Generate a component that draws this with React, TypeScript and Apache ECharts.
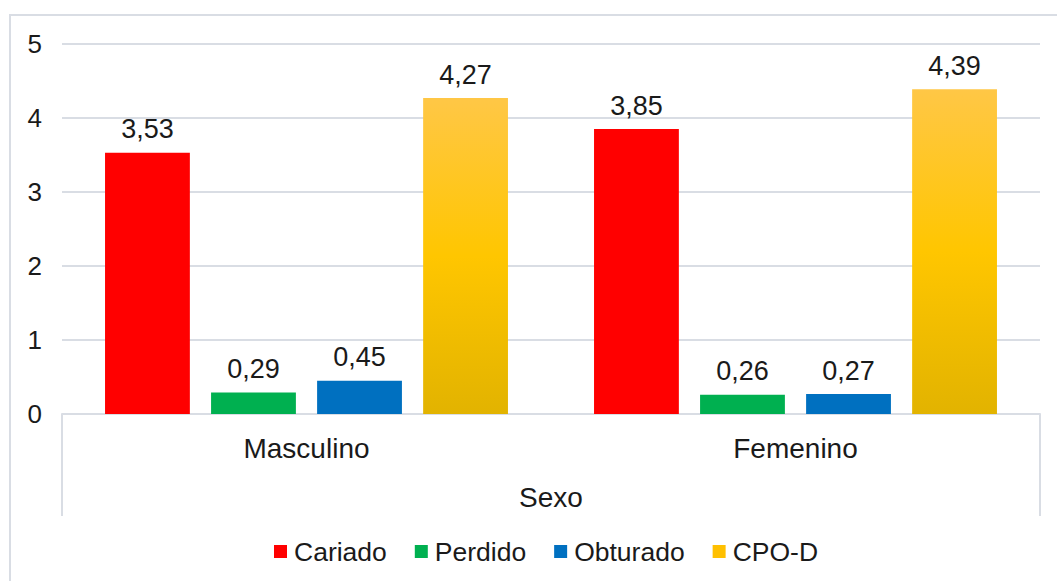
import React, { useEffect, useRef } from "react";
import * as echarts from "echarts";

const categories = ["Masculino", "Femenino"];
const seriesNames = ["Cariado", "Perdido", "Obturado", "CPO-D"];
const cariado = [3.53, 3.85];
const perdido = [0.29, 0.26];
const obturado = [0.45, 0.27];
const cpod = [4.27, 4.39];
const yTicks = [0, 1, 2, 3, 4, 5];

const FONT = "'Liberation Sans', Arial, sans-serif";
const TXT = "#1a1a1a";

export default function App() {
  const ref = useRef<HTMLDivElement>(null);
  useEffect(() => {
    if (!ref.current) return;
    const chart = echarts.init(ref.current, undefined, { renderer: "svg" });
    const label = {
      show: true,
      position: "top",
      distance: 10,
      fontSize: 27,
      fontFamily: FONT,
      color: TXT,
      formatter: (p: any) => p.value.toFixed(2).replace(".", ","),
    };
    const goldGrad = new echarts.graphic.LinearGradient(0, 0, 0, 1, [
      { offset: 0, color: "#FFC746" },
      { offset: 0.5, color: "#FFC600" },
      { offset: 1, color: "#E2B300" },
    ]);
    const data = [cariado, perdido, obturado, cpod];
    const colors: any[] = ["#FF0000", "#00B050", "#0070C0", goldGrad];
    chart.setOption({
      animation: false,
      textStyle: { fontFamily: FONT },
      grid: { left: 62, right: 17, top: 44, bottom: 167, containLabel: false },
      graphic: [
        {
          type: "rect",
          shape: { x: 10, y: 15, width: 1070, height: 600 },
          style: { fill: "none", stroke: "#D9DDE4", lineWidth: 2 },
          silent: true,
        },
        {
          type: "line",
          shape: { x1: 62, y1: 414, x2: 62, y2: 516 },
          style: { stroke: "#D9DDE4", lineWidth: 2 },
          silent: true,
        },
        {
          type: "line",
          shape: { x1: 1040, y1: 414, x2: 1040, y2: 516 },
          style: { stroke: "#D9DDE4", lineWidth: 2 },
          silent: true,
        },
      ],
      legend: {
        data: seriesNames.map((n, i) => ({
          name: n,
          icon: "rect",
          itemStyle: i === 3 ? { color: "#FFC000" } : undefined,
        })),
        top: 533,
        left: 269,
        itemWidth: 13,
        itemHeight: 13,
        itemGap: 28,
        textStyle: { fontSize: 26.5, fontFamily: FONT, color: TXT, padding: [0, 0, 0, 2] },
      },
      xAxis: {
        type: "category",
        data: categories,
        axisLine: { show: true, lineStyle: { color: "#D9DDE4", width: 2 } },
        axisTick: { show: false },
        axisLabel: { fontSize: 28, fontFamily: FONT, color: TXT, margin: 20 },
        name: "Sexo",
        nameLocation: "middle",
        nameGap: 69,
        nameTextStyle: { fontSize: 28, fontFamily: FONT, color: TXT },
      },
      yAxis: {
        type: "value",
        min: yTicks[0],
        max: yTicks[yTicks.length - 1],
        interval: 1,
        axisLine: { show: false },
        axisTick: { show: false },
        axisLabel: { fontSize: 26, fontFamily: FONT, color: TXT, margin: 20 },
        splitLine: { lineStyle: { color: "#D9DDE4", width: 2 } },
      },
      series: seriesNames.map((n, i) => ({
        name: n,
        type: "bar",
        data: data[i],
        barGap: "25%",
        barCategoryGap: "17.6%",
        itemStyle: { color: colors[i] },
        label,
      })),
    });
    return () => chart.dispose();
  }, []);
  return (
    <div
      ref={ref}
      style={{ position: "fixed", left: 0, top: 0, width: 1057, height: 581, background: "#fff" }}
    />
  );
}
